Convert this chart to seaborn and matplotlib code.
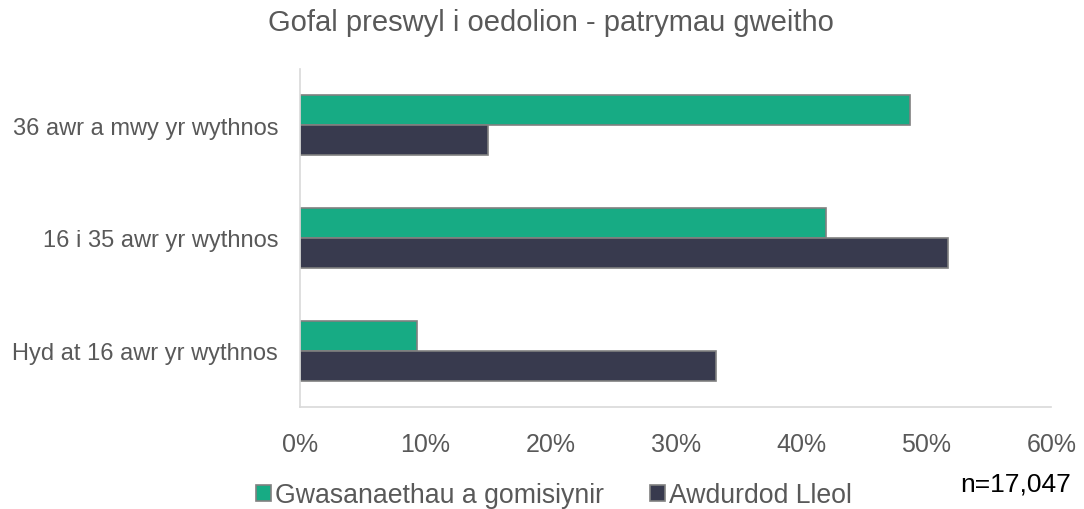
import matplotlib
matplotlib.use('Agg')
import matplotlib.pyplot as plt
import pandas as pd
import seaborn as sns
from matplotlib.ticker import PercentFormatter

categories = ['36 awr a mwy yr wythnos', '16 i 35 awr yr wythnos', 'Hyd at 16 awr yr wythnos']
series_names = ['Gwasanaethau a gomisiynir', 'Awdurdod Lleol']
commissioned = [48.7, 42.0, 9.3]
local_authority = [15.0, 51.7, 33.2]
colors = ['#17AB84', '#383A4E']

df = pd.DataFrame({
    'category': categories * 2,
    'series': [series_names[0]] * 3 + [series_names[1]] * 3,
    'value': commissioned + local_authority,
})

sns.set_style('white')
plt.rcParams['font.family'] = ['Liberation Sans', 'DejaVu Sans']

fig, ax = plt.subplots(figsize=(10.84, 5.10), dpi=100)
fig.subplots_adjust(left=0.277, right=0.970, top=0.863, bottom=0.2)

sns.barplot(data=df, y='category', x='value', hue='series', order=categories,
            hue_order=series_names, palette=colors, saturation=1, orient='h',
            width=0.53, edgecolor='#808080', linewidth=1.2, ax=ax)

ax.set_xlim(0, 60)
ax.set_xticks(range(0, 61, 10))
ax.xaxis.set_major_formatter(PercentFormatter(decimals=0))
ax.set_xlabel('')
ax.set_ylabel('')
ax.tick_params(axis='both', length=0, colors='#595959')
ax.tick_params(axis='x', pad=18, labelsize=18)
ax.tick_params(axis='y', pad=16, labelsize=17)
for side in ['top', 'right']:
    ax.spines[side].set_visible(False)
for side in ['left', 'bottom']:
    ax.spines[side].set_color('#D9D9D9')
    ax.spines[side].set_linewidth(1.2)

fig.text(0.508, 0.955, 'Gofal preswyl i oedolion - patrymau gweitho',
         ha='center', va='center', fontsize=21, color='#595959')

handles, labels = ax.get_legend_handles_labels()
ax.legend(handles, labels, loc='center', bbox_to_anchor=(0.511, 0.027),
          bbox_transform=fig.transFigure, ncol=2, frameon=False,
          fontsize=19.2, handlelength=0.58, handleheight=0.58,
          handletextpad=0.16, columnspacing=1.7, labelcolor='#595959')

fig.text(0.988, 0.05, 'n=17,047', ha='right', va='center', fontsize=19, color='#000000')

fig.savefig('out.png', dpi=100)
